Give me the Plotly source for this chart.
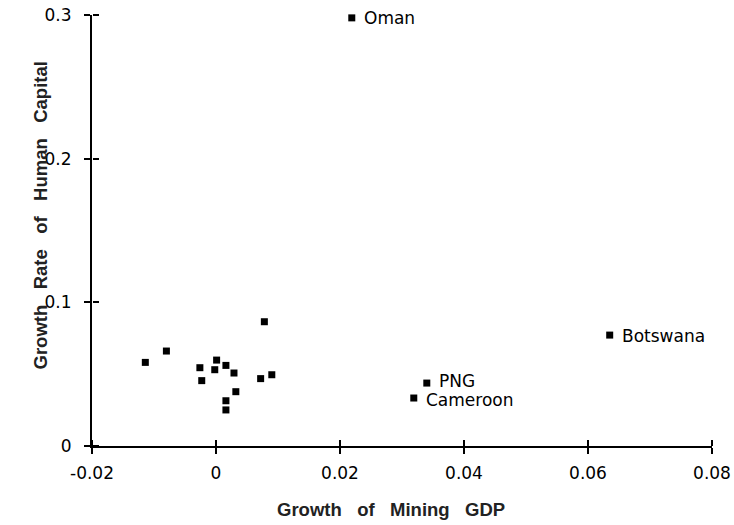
import plotly.graph_objects as go

# Data
growth_mining_gdp = [0.0219, 0.0635, 0.0340, 0.0319,
                     0.0078, -0.0080, -0.0114, 0.0001, -0.0026, -0.0002,
                     0.0016, 0.0029, -0.0023, 0.0072, 0.0090, 0.0032,
                     0.0016, 0.0016]
growth_human_capital = [0.298, 0.0772, 0.0438, 0.0334,
                        0.0865, 0.0661, 0.0582, 0.0598, 0.0545, 0.0531,
                        0.0561, 0.0508, 0.0455, 0.0469, 0.0496, 0.0378,
                        0.0315, 0.0251]
point_labels = ["Oman", "Botswana", "PNG", "Cameroon"] + [""] * 14
label_yshift = [0, -1, 2, -2]

x_ticks = [-0.02, 0, 0.02, 0.04, 0.06, 0.08]
x_ticktext = ["-0.02", "0", "0.02", "0.04", "0.06", "0.08"]
y_ticks = [0, 0.1, 0.2, 0.3]
y_ticktext = ["0", "0.1", "0.2", "0.3"]

FONT = "DejaVu Sans, Liberation Sans, Arial, sans-serif"
TFONT = "Liberation Sans, Arial, Helvetica, sans-serif"
SP = "\u00a0\u00a0\u00a0"

fig = go.Figure()
fig.add_trace(go.Scatter(
    x=growth_mining_gdp, y=growth_human_capital,
    mode="markers",
    marker=dict(symbol="square", size=7, color="black"),
    cliponaxis=False,
    showlegend=False,
))
# same points on overlay axes (invisible) so the opposite-side ticks are drawn
fig.add_trace(go.Scatter(x=growth_mining_gdp, y=growth_human_capital,
                         xaxis="x2", yaxis="y2", mode="markers",
                         marker=dict(opacity=0), showlegend=False,
                         hoverinfo="skip"))

axis_common = dict(showgrid=False, zeroline=False, showline=True,
                   linecolor="black", linewidth=2, ticks="outside",
                   ticklen=6, tickwidth=1.5, tickcolor="black",
                   automargin=False,
                   tickfont=dict(family=FONT, size=17, color="black"))
overlay_common = dict(ticks="outside", ticklen=6, tickwidth=1.5,
                      tickcolor="black", showticklabels=False,
                      showgrid=False, zeroline=False, showline=False,
                      automargin=False, anchor="free", position=0)

annotations = []
for xv, yv, lab, ys in zip(growth_mining_gdp, growth_human_capital,
                           point_labels, label_yshift + [0] * 14):
    if lab:
        annotations.append(dict(
            text=lab, x=xv, y=yv, xref="x", yref="y", xanchor="left",
            yanchor="middle", xshift=10, yshift=ys, showarrow=False,
            font=dict(family=FONT, size=17, color="black")))

annotations += [
    dict(text="<b>Growth" + SP + "of" + SP + "Mining" + SP + "GDP</b>",
         xref="paper", yref="paper", x=0.5, y=0, xshift=-11, yshift=-63,
         xanchor="center", yanchor="middle", showarrow=False,
         font=dict(family=TFONT, size=18.5, color="#222")),
    dict(text="<b>Growth" + SP + "Rate" + SP + "of" + SP + "Human" + SP + "Capital</b>",
         xref="paper", yref="paper", x=0, y=0.5, xshift=-52, yshift=15,
         xanchor="center", yanchor="middle", textangle=-90, showarrow=False,
         font=dict(family=TFONT, size=18.5, color="#222")),
]

fig.update_layout(
    width=734, height=525,
    margin=dict(l=92, r=22, t=15, b=79, autoexpand=False),
    paper_bgcolor="white", plot_bgcolor="rgba(0,0,0,0)",
    xaxis=dict(range=[-0.02, 0.08], tickvals=x_ticks, ticktext=x_ticktext,
               ticklabelstandoff=5, **axis_common),
    yaxis=dict(range=[0, 0.3], tickvals=y_ticks, ticktext=y_ticktext,
               ticklabelstandoff=9, **axis_common),
    xaxis2=dict(range=[-0.02, 0.08], tickvals=x_ticks, overlaying="x",
                side="top", **overlay_common),
    yaxis2=dict(range=[0, 0.3], tickvals=y_ticks, overlaying="y",
                side="right", **overlay_common),
    annotations=annotations,
)

fig.write_html("out.html")
